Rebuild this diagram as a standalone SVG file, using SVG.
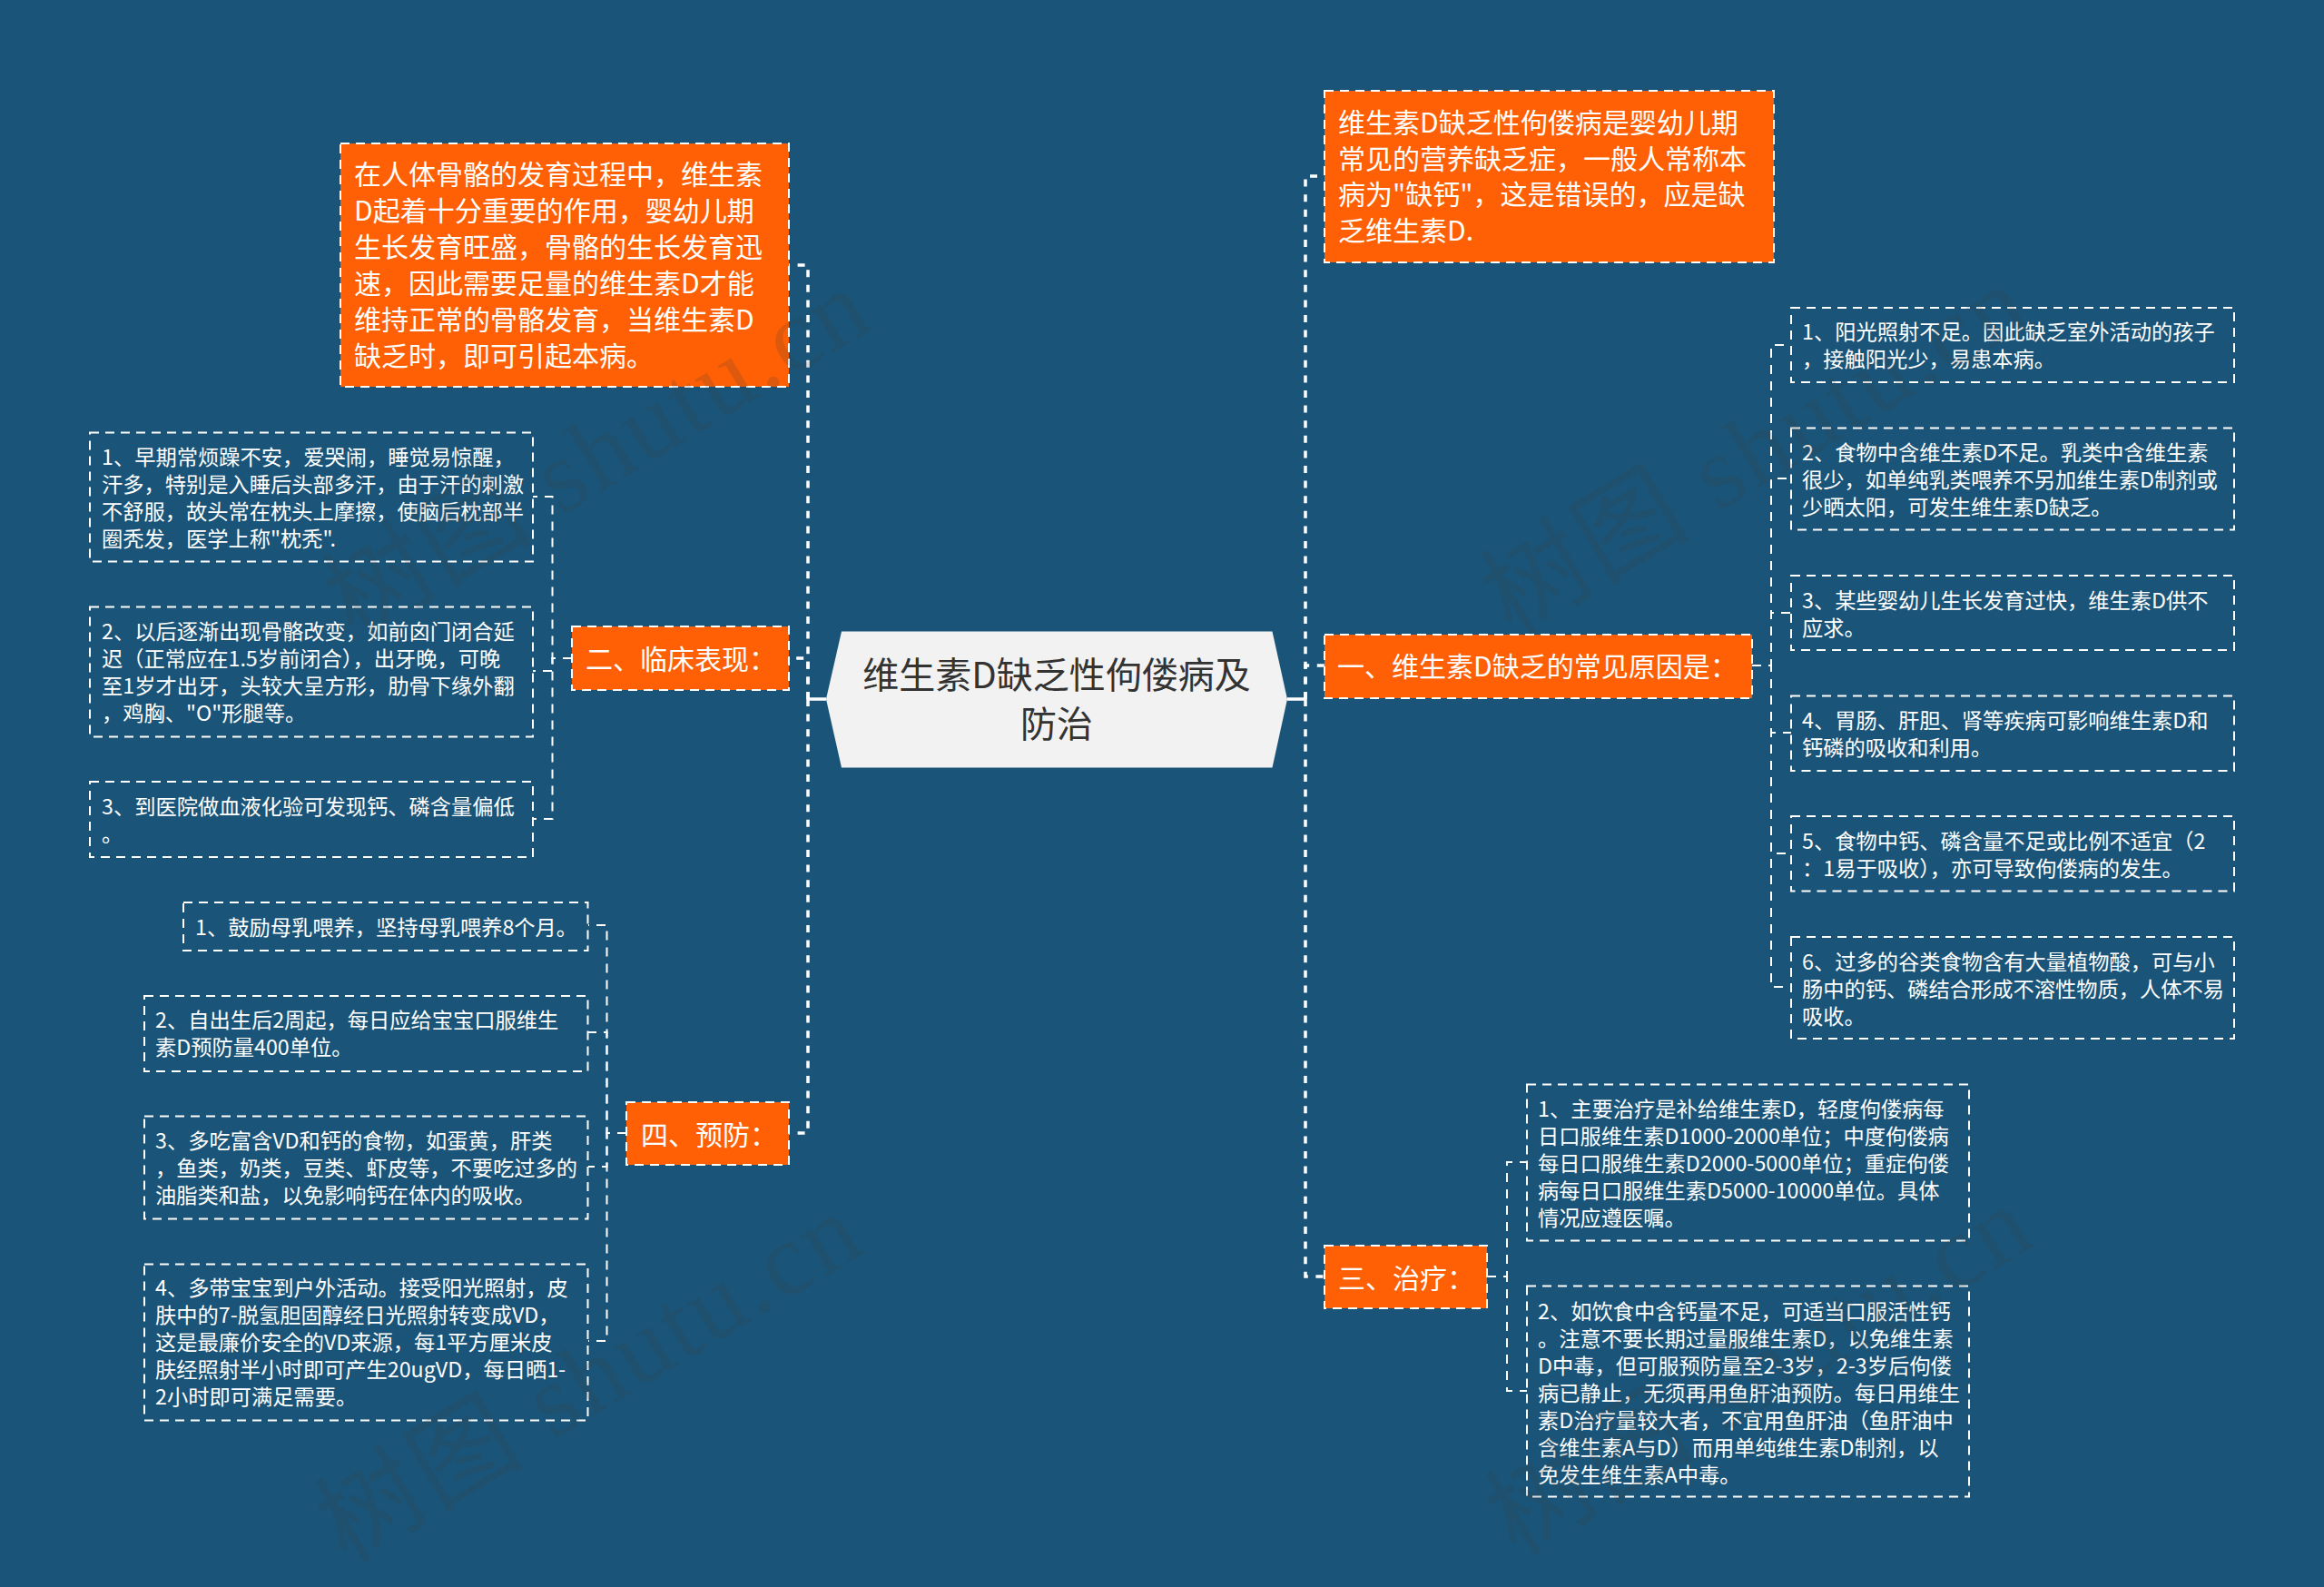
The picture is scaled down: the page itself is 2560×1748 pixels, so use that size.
<svg xmlns="http://www.w3.org/2000/svg" width="2560" height="1748" viewBox="0 0 2560 1748">
<style>
text{font-family:"Noto Sans CJK SC","Liberation Sans",sans-serif}
.o{fill:#ff6005;stroke:#fff;stroke-width:2;stroke-dasharray:10 7}
.l{fill:none;stroke:#fff;stroke-width:2;stroke-dasharray:10 7}
.t1{fill:#fff;font-size:30px}
.t2{fill:#fff;font-size:23.25px}
.c1{fill:none;stroke:#fff;stroke-width:3.5;stroke-dasharray:8 8.6}
.c2{fill:none;stroke:#fff;stroke-width:2;stroke-dasharray:10 8}
.c0{fill:none;stroke:#fff;stroke-width:3.5}
.wm{fill:#3a3a3a;opacity:.17;font-size:114px;letter-spacing:3px;font-family:"Liberation Serif","Noto Sans CJK SC",serif}
</style>
<rect width="2560" height="1748" fill="#1a5579"/>
<g id="connectors">
<path class="c0" d="M910 770H890M1418 770H1438"/>
<path class="c1" d="M890 770V292H869"/>
<path class="c1" d="M890 770V725H869"/>
<path class="c1" d="M890 770V1248H869"/>
<path class="c1" d="M1438 770V194H1459"/>
<path class="c1" d="M1438 770V733H1459"/>
<path class="c1" d="M1438 770V1406H1459"/>
<path class="c2" d="M1930 733H1951V380H1973"/>
<path class="c2" d="M1930 733H1951V527H1973"/>
<path class="c2" d="M1930 733H1951V675H1973"/>
<path class="c2" d="M1930 733H1951V807H1973"/>
<path class="c2" d="M1930 733H1951V940H1973"/>
<path class="c2" d="M1930 733H1951V1087H1973"/>
<path class="c2" d="M1638 1406H1660V1280H1682"/>
<path class="c2" d="M1638 1406H1660V1532H1682"/>
<path class="c2" d="M630 725H608.500V547H587"/>
<path class="c2" d="M630 725H608.500V739H587"/>
<path class="c2" d="M630 725H608.500V902H587"/>
<path class="c2" d="M690 1248H668.500V1019H648"/>
<path class="c2" d="M690 1248H668.500V1137H648"/>
<path class="c2" d="M690 1248H668.500V1285H648"/>
<path class="c2" d="M690 1248H668.500V1477H648"/>
</g>
<g id="root">
<path d="M927 695.500H1401.500L1418 770L1401.500 845.500H927L910 770Z" fill="#f2f2f2"/>
<text font-size="40" fill="#333" text-anchor="middle"><tspan x="1164" y="758">维生素D缺乏性佝偻病及</tspan><tspan x="1164" y="812">防治</tspan></text>
</g>
<g id="intro-left">
<rect class="o" x="375" y="158" width="494" height="268"/>
<text class="t1"><tspan x="390" y="203">在人体骨骼的发育过程中，维生素</tspan><tspan x="390" y="243">D起着十分重要的作用，婴幼儿期</tspan><tspan x="390" y="283">生长发育旺盛，骨骼的生长发育迅</tspan><tspan x="390" y="323">速，因此需要足量的维生素D才能</tspan><tspan x="390" y="363">维持正常的骨骼发育，当维生素D</tspan><tspan x="390" y="403">缺乏时，即可引起本病。</tspan></text>
</g>
<g id="intro-right">
<rect class="o" x="1459" y="100" width="495" height="189"/>
<text class="t1"><tspan x="1474" y="146">维生素D缺乏性佝偻病是婴幼儿期</tspan><tspan x="1474" y="186">常见的营养缺乏症，一般人常称本</tspan><tspan x="1474" y="225">病为"缺钙"，这是错误的，应是缺</tspan><tspan x="1474" y="265">乏维生素D.</tspan></text>
</g>
<g id="branch-1">
<rect class="o" x="1459" y="699" width="471" height="70"/>
<text class="t1" x="1473" y="745">一、维生素D缺乏的常见原因是：</text>
</g>
<g id="branch-2">
<rect class="o" x="630" y="690" width="239" height="70"/>
<text class="t1" x="645" y="737">二、临床表现：</text>
</g>
<g id="branch-3">
<rect class="o" x="1459" y="1372" width="179" height="69"/>
<text class="t1" x="1474" y="1419">三、治疗：</text>
</g>
<g id="branch-4">
<rect class="o" x="690" y="1214" width="179" height="69"/>
<text class="t1" x="706" y="1261">四、预防：</text>
</g>
<g id="b1-1"><rect class="l" x="1973" y="339" width="488" height="82"/>
<text class="t2"><tspan x="1985" y="374">1、阳光照射不足。因此缺乏室外活动的孩子</tspan><tspan x="1985" y="404">，接触阳光少，易患本病。</tspan></text></g>
<g id="b1-2"><rect class="l" x="1973" y="471.500" width="488" height="112"/>
<text class="t2"><tspan x="1985" y="507">2、食物中含维生素D不足。乳类中含维生素</tspan><tspan x="1985" y="537">很少，如单纯乳类喂养不另加维生素D制剂或</tspan><tspan x="1985" y="567">少晒太阳，可发生维生素D缺乏。</tspan></text></g>
<g id="b1-3"><rect class="l" x="1973" y="634" width="488" height="82"/>
<text class="t2"><tspan x="1985" y="669.500">3、某些婴幼儿生长发育过快，维生素D供不</tspan><tspan x="1985" y="699.500">应求。</tspan></text></g>
<g id="b1-4"><rect class="l" x="1973" y="766.500" width="488" height="82.500"/>
<text class="t2"><tspan x="1985" y="802">4、胃肠、肝胆、肾等疾病可影响维生素D和</tspan><tspan x="1985" y="832">钙磷的吸收和利用。</tspan></text></g>
<g id="b1-5"><rect class="l" x="1973" y="899" width="488" height="82.500"/>
<text class="t2"><tspan x="1985" y="935">5、食物中钙、磷含量不足或比例不适宜（2</tspan><tspan x="1985" y="965">：1易于吸收），亦可导致佝偻病的发生。</tspan></text></g>
<g id="b1-6"><rect class="l" x="1973" y="1032" width="488" height="112"/>
<text class="t2"><tspan x="1985" y="1067.500">6、过多的谷类食物含有大量植物酸，可与小</tspan><tspan x="1985" y="1097.500">肠中的钙、磷结合形成不溶性物质，人体不易</tspan><tspan x="1985" y="1127.500">吸收。</tspan></text></g>
<g id="b3-1"><rect class="l" x="1682" y="1194.500" width="487" height="172"/>
<text class="t2"><tspan x="1694" y="1230">1、主要治疗是补给维生素D，轻度佝偻病每</tspan><tspan x="1694" y="1260">日口服维生素D1000-2000单位；中度佝偻病</tspan><tspan x="1694" y="1290">每日口服维生素D2000-5000单位；重症佝偻</tspan><tspan x="1694" y="1320">病每日口服维生素D5000-10000单位。具体</tspan><tspan x="1694" y="1350">情况应遵医嘱。</tspan></text></g>
<g id="b3-2"><rect class="l" x="1682" y="1416.500" width="487" height="232"/>
<text class="t2"><tspan x="1694" y="1453">2、如饮食中含钙量不足，可适当口服活性钙</tspan><tspan x="1694" y="1483">。注意不要长期过量服维生素D，以免维生素</tspan><tspan x="1694" y="1513">D中毒，但可服预防量至2-3岁，2-3岁后佝偻</tspan><tspan x="1694" y="1543">病已静止，无须再用鱼肝油预防。每日用维生</tspan><tspan x="1694" y="1573">素D治疗量较大者，不宜用鱼肝油（鱼肝油中</tspan><tspan x="1694" y="1603">含维生素A与D）而用单纯维生素D制剂，以</tspan><tspan x="1694" y="1633">免发生维生素A中毒。</tspan></text></g>
<g id="b2-1"><rect class="l" x="99" y="476.500" width="488" height="142"/>
<text class="t2"><tspan x="112" y="512">1、早期常烦躁不安，爱哭闹，睡觉易惊醒，</tspan><tspan x="112" y="542">汗多，特别是入睡后头部多汗，由于汗的刺激</tspan><tspan x="112" y="572">不舒服，故头常在枕头上摩擦，使脑后枕部半</tspan><tspan x="112" y="602">圈秃发，医学上称"枕秃".</tspan></text></g>
<g id="b2-2"><rect class="l" x="99" y="668.500" width="488" height="143"/>
<text class="t2"><tspan x="112" y="704">2、以后逐渐出现骨骼改变，如前囟门闭合延</tspan><tspan x="112" y="734">迟（正常应在1.5岁前闭合），出牙晚，可晚</tspan><tspan x="112" y="764">至1岁才出牙，头较大呈方形，肋骨下缘外翻</tspan><tspan x="112" y="794">，鸡胸、"O"形腿等。</tspan></text></g>
<g id="b2-3"><rect class="l" x="99" y="861" width="488" height="83"/>
<text class="t2"><tspan x="112" y="897">3、到医院做血液化验可发现钙、磷含量偏低</tspan><tspan x="112" y="927">。</tspan></text></g>
<g id="b4-1"><rect class="l" x="202" y="994" width="445.500" height="53"/>
<text class="t2" x="215" y="1030">1、鼓励母乳喂养，坚持母乳喂养8个月。</text></g>
<g id="b4-2"><rect class="l" x="159" y="1097" width="488.500" height="83"/>
<text class="t2"><tspan x="171" y="1132">2、自出生后2周起，每日应给宝宝口服维生</tspan><tspan x="171" y="1162">素D预防量400单位。</tspan></text></g>
<g id="b4-3"><rect class="l" x="159" y="1229.500" width="488.500" height="113"/>
<text class="t2"><tspan x="171" y="1265">3、多吃富含VD和钙的食物，如蛋黄，肝类</tspan><tspan x="171" y="1295">，鱼类，奶类，豆类、虾皮等，不要吃过多的</tspan><tspan x="171" y="1325">油脂类和盐，以免影响钙在体内的吸收。</tspan></text></g>
<g id="b4-4"><rect class="l" x="159" y="1392.500" width="488.500" height="172"/>
<text class="t2"><tspan x="171" y="1427">4、多带宝宝到户外活动。接受阳光照射，皮</tspan><tspan x="171" y="1457">肤中的7-脱氢胆固醇经日光照射转变成VD，</tspan><tspan x="171" y="1487">这是最廉价安全的VD来源，每1平方厘米皮</tspan><tspan x="171" y="1517">肤经照射半小时即可产生20ugVD，每日晒1-</tspan><tspan x="171" y="1547">2小时即可满足需要。</tspan></text></g>
<g id="watermarks">
<text class="wm" transform="translate(390 705) rotate(-31)">树图 shutu.cn</text>
<text class="wm" transform="translate(381 1723) rotate(-31)">树图 shutu.cn</text>
<text class="wm" transform="translate(1665 701) rotate(-31)">树图 shutu.cn</text>
<text class="wm" transform="translate(1670 1715) rotate(-31)">树图 shutu.cn</text>
</g>
</svg>
